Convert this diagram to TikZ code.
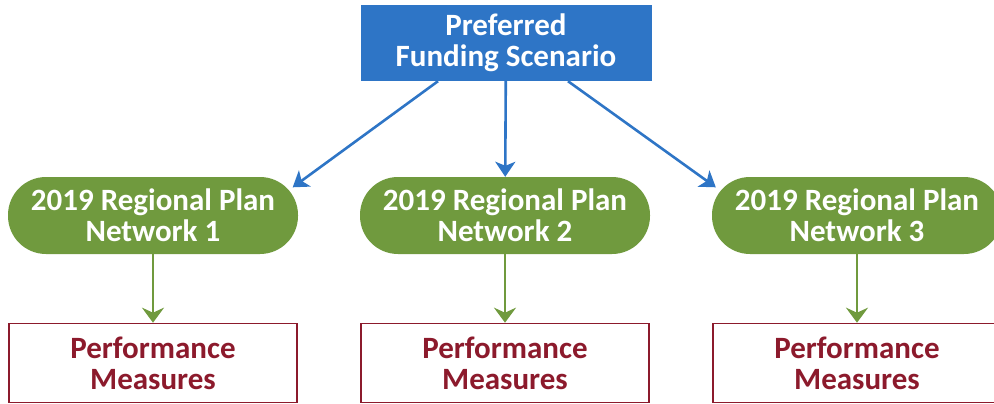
\documentclass[tikz,border=0pt]{standalone}
\usepackage{fontspec}
\setmainfont{Carlito}
\usetikzlibrary{arrows.meta,positioning}
\definecolor{scenblue}{RGB}{46,117,198}
\definecolor{netgreen}{RGB}{112,154,62}
\definecolor{measred}{RGB}{140,26,44}

\begin{document}
\begin{tikzpicture}[x=1pt, y=1pt, node distance=352pt, on grid, auto,
    boxfont/.style={font=\fontsize{31}{31}\selectfont\bfseries},
    scenario/.style={rectangle, fill=scenblue, text=white, minimum width=291pt, minimum height=76pt, align=center, boxfont},
    network/.style={rectangle, rounded corners=38pt, fill=netgreen, text=white, minimum width=290pt, minimum height=77pt, align=center, boxfont},
    measure/.style={rectangle, draw=measred, line width=1.6pt, fill=white, text=measred, minimum width=288pt, minimum height=79pt, align=center, boxfont},
    bluearrow/.style={-{Stealth[length=15pt, width=20pt, inset=4pt]}, draw=scenblue, line width=2.6pt},
    greenarrow/.style={-{Stealth[length=15pt, width=22pt, inset=5pt]}, draw=netgreen, line width=2.4pt}]
            \useasboundingbox (0,0) rectangle (994,-404);
            \node[scenario] (pref) at (506,-43) {Preferred\\Funding Scenario};
            \node[network] (net2) at (505,-215.5) {2019 Regional Plan\\Network 2};
            \node[network, left = of net2] (net1) {2019 Regional Plan\\Network 1};
            \node[network, right = of net2] (net3) {2019 Regional Plan\\Network 3};
            \node[measure, below = 147.5pt of net1] (perf1) {Performance\\Measures};
            \node[measure, below = 147.5pt of net2] (perf2) {Performance\\Measures};
            \node[measure, below = 147.5pt of net3] (perf3) {Performance\\Measures};
            \draw[bluearrow] ([xshift=-68pt]pref.south) -- ([xshift=-5.5pt, yshift=-10.5pt]net1.north east);
            \draw[bluearrow] (pref) -- (net2);
            \draw[bluearrow] ([xshift=62pt]pref.south) -- ([xshift=4pt, yshift=-10.5pt]net3.north west);
            \draw[greenarrow] (net1) -- (perf1);
            \draw[greenarrow] (net2) -- (perf2);
            \draw[greenarrow] (net3) -- (perf3);
        \end{tikzpicture}
\end{document}
